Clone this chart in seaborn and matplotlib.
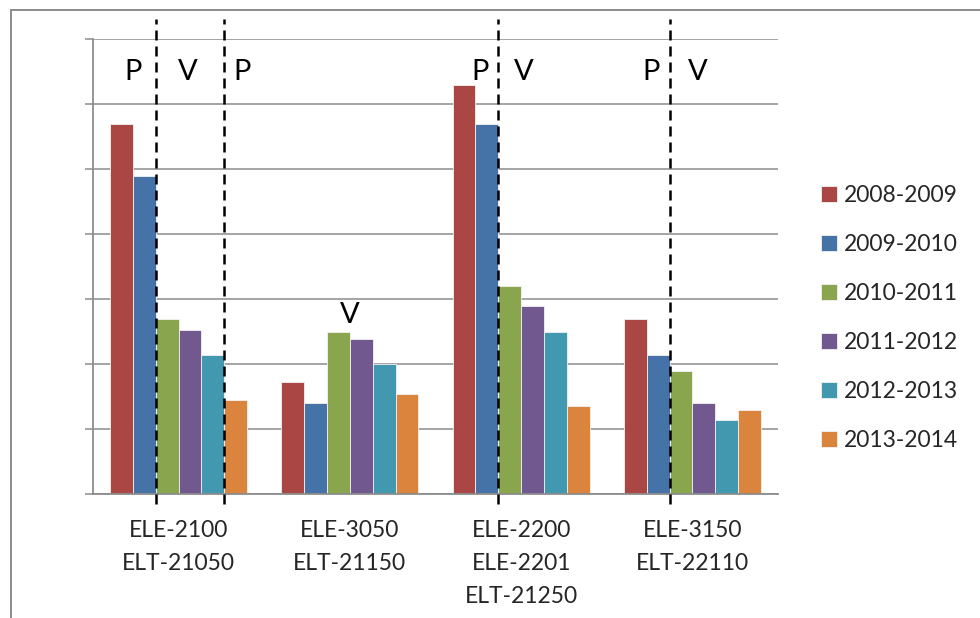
import matplotlib
matplotlib.use('Agg')
import matplotlib.pyplot as plt
from matplotlib.patches import Rectangle
import seaborn as sns
import pandas as pd

# data (in gridline units; the chart has no y labels)
courses = ['ELE-2100\nELT-21050', 'ELE-3050\nELT-21150',
           'ELE-2200\nELE-2201\nELT-21250', 'ELE-3150\nELT-22110']
years = ['2008-2009', '2009-2010', '2010-2011', '2011-2012', '2012-2013', '2013-2014']
v_2008 = [5.70, 1.73, 6.30, 2.69]
v_2009 = [4.89, 1.40, 5.70, 2.14]
v_2010 = [2.69, 2.49, 3.20, 1.89]
v_2011 = [2.53, 2.39, 2.89, 1.40]
v_2012 = [2.14, 2.00, 2.49, 1.14]
v_2013 = [1.44, 1.54, 1.35, 1.29]

colors = ['#AA4643', '#4572A7', '#89A54E', '#71588F', '#4198AF', '#DB843D']

# P / V marks and the dashed separators
marks = [('P', -0.268, 6.50), ('V', 0.051, 6.50), ('P', 0.371, 6.50),
         ('V', 0.997, 2.75),
         ('P', 1.763, 6.50), ('V', 2.015, 6.50),
         ('P', 2.761, 6.50), ('V', 3.032, 6.50)]
dash_x = [-0.1333, 0.2667, 1.8667, 2.8667]

rows = []
for yr, vals in zip(years, [v_2008, v_2009, v_2010, v_2011, v_2012, v_2013]):
    for c, v in zip(courses, vals):
        rows.append({'course': c, 'year': yr, 'value': v})
df = pd.DataFrame(rows)

sns.set_style('white')
plt.rcParams['font.family'] = ['Lato', 'DejaVu Sans']

fig = plt.figure(figsize=(9.8, 6.18), dpi=100)
ax = fig.add_axes([93/980, 1 - 494/618, (778-93)/980, (494-39)/618])

sns.barplot(data=df, x='course', y='value', hue='year', order=courses,
            hue_order=years, palette=colors, width=0.8, ax=ax,
            edgecolor='#f2f2f2', linewidth=0.6, saturation=1)

leg = ax.get_legend()
handles = leg.legend_handles
labels = [t.get_text() for t in leg.get_texts()]
leg.remove()

ax.set_ylim(0, 7)
ax.set_xlim(-0.5, 3.5)
ax.set_yticks(range(8))
ax.set_yticklabels([])
ax.yaxis.grid(True, color='#8c8c8c', linewidth=1.1)
ax.set_axisbelow(True)
ax.set_xlabel('')
ax.set_ylabel('')

ax.set_xticks(range(4))
ax.set_xticklabels(courses, fontsize=16.5, linespacing=1.7)
ax.tick_params(axis='x', which='major', length=0, pad=19)
ax.set_xticks([-0.5, 0.5, 1.5, 2.5, 3.5], minor=True)
ax.tick_params(axis='x', which='minor', length=6, width=1.1, color='#8c8c8c', direction='out')
ax.tick_params(axis='y', length=6, width=1.1, color='#8c8c8c', direction='out', left=True)

for s in ['top', 'right']:
    ax.spines[s].set_visible(False)
for s in ['left', 'bottom']:
    ax.spines[s].set_color('#8c8c8c')
    ax.spines[s].set_linewidth(1.3)

trans = ax.get_xaxis_transform()
for x in dash_x:
    ax.plot([x, x], [-0.022, 1.045], transform=trans, color='black',
            linestyle=(0, (4, 2.4)), linewidth=1.8, clip_on=False, zorder=5)

for txt, x, y in marks:
    ax.text(x, y, txt, fontsize=21, ha='center', va='center', color='black', zorder=6)

fig.legend(handles, labels, loc='center left', bbox_to_anchor=(821/980, 1 - 317.8/618),
           frameon=False, fontsize=16.5, handlelength=0.68, handleheight=0.68,
           handletextpad=0.3, labelspacing=1.22, borderpad=0, borderaxespad=0)

# outer chart frame
fig.patches.append(Rectangle((11/980, -0.1), 1.2, 1 - 10/618 + 0.1, transform=fig.transFigure,
                             fill=False, edgecolor='#8c8c8c', linewidth=1.4))

fig.savefig('out.png', dpi=100)
